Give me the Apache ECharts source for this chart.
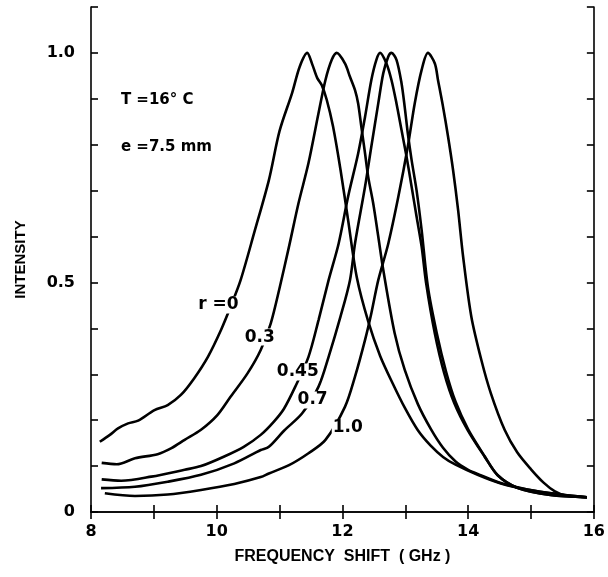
<!DOCTYPE html>
<html>
<head>
<meta charset="utf-8">
<script src="https://cdn.jsdelivr.net/npm/echarts@6/dist/echarts.min.js"></script>
<style>
html,body{margin:0;padding:0;background:#fff;}
#chart{width:608px;height:577px;}
</style>
</head>
<body>
<div id="chart"></div>
<script>
// ---- data ----
const xTicks = [8, 10, 12, 14, 16];
const yTicks = [0, 0.5, 1.0];
const seriesNames = ['r = 0', '0.3', '0.45', '0.7', '1.0'];

const r0X = [8.14, 8.3, 8.43, 8.59, 8.75, 9.01, 9.22, 9.43, 9.64, 9.86, 10.07, 10.22, 10.38, 10.6, 10.83, 11.0, 11.2, 11.32, 11.44, 11.52, 11.6, 11.67, 11.75, 11.85, 11.97, 12.09, 12.23, 12.41, 12.6, 12.8, 13.0, 13.2, 13.4, 13.6, 13.8, 14.15, 14.52, 14.94, 15.42, 15.89];
const r0Y = [0.153, 0.168, 0.182, 0.193, 0.199, 0.222, 0.233, 0.255, 0.291, 0.338, 0.397, 0.447, 0.505, 0.61, 0.723, 0.83, 0.913, 0.97, 1.0, 0.975, 0.945, 0.93, 0.898, 0.84, 0.745, 0.636, 0.51, 0.415, 0.34, 0.28, 0.225, 0.178, 0.145, 0.12, 0.103, 0.081, 0.062, 0.049, 0.039, 0.032];

const r03X = [8.17, 8.41, 8.70, 9.06, 9.28, 9.49, 9.75, 10.01, 10.22, 10.49, 10.70, 10.86, 11.0, 11.15, 11.30, 11.46, 11.62, 11.73, 11.83, 11.91, 12.04, 12.12, 12.20, 12.25, 12.30, 12.36, 12.41, 12.49, 12.57, 12.65, 12.83, 12.99, 13.2, 13.41, 13.6, 13.8, 14.0, 14.15, 14.52, 14.94, 15.42, 15.89];
const r03Y = [0.107, 0.104, 0.117, 0.126, 0.139, 0.157, 0.179, 0.211, 0.251, 0.302, 0.353, 0.411, 0.488, 0.578, 0.672, 0.76, 0.869, 0.941, 0.985, 1.0, 0.977, 0.948, 0.919, 0.89, 0.84, 0.781, 0.73, 0.672, 0.60, 0.527, 0.39, 0.31, 0.235, 0.18, 0.14, 0.11, 0.092, 0.083, 0.063, 0.049, 0.039, 0.032];

const r045X = [8.17, 8.48, 8.96, 9.49, 9.75, 10.12, 10.43, 10.70, 10.91, 11.07, 11.25, 11.46, 11.62, 11.78, 11.94, 12.09, 12.25, 12.36, 12.46, 12.54, 12.60, 12.70, 12.78, 12.86, 12.94, 13.02, 13.10, 13.18, 13.26, 13.33, 13.47, 13.62, 13.78, 13.99, 14.26, 14.47, 14.78, 15.31, 15.89];
const r045Y = [0.071, 0.068, 0.077, 0.092, 0.100, 0.121, 0.142, 0.168, 0.197, 0.225, 0.273, 0.338, 0.418, 0.505, 0.585, 0.687, 0.781, 0.861, 0.941, 0.985, 1.0, 0.977, 0.941, 0.89, 0.832, 0.774, 0.709, 0.643, 0.578, 0.5, 0.389, 0.302, 0.237, 0.179, 0.121, 0.08, 0.053, 0.037, 0.032];

const r07X = [8.16, 8.70, 9.22, 9.75, 10.28, 10.70, 10.83, 11.07, 11.36, 11.62, 11.78, 11.97, 12.12, 12.20, 12.36, 12.46, 12.57, 12.65, 12.73, 12.78, 12.86, 12.94, 12.99, 13.04, 13.10, 13.18, 13.26, 13.36, 13.5, 13.65, 13.8, 14.0, 14.26, 14.47, 14.78, 15.31, 15.89];
const r07Y = [0.052, 0.055, 0.066, 0.081, 0.106, 0.135, 0.142, 0.177, 0.215, 0.273, 0.338, 0.426, 0.505, 0.585, 0.709, 0.796, 0.89, 0.956, 0.992, 1.0, 0.985, 0.934, 0.883, 0.825, 0.767, 0.70, 0.614, 0.49, 0.39, 0.305, 0.24, 0.18, 0.122, 0.08, 0.053, 0.037, 0.032];

const r10X = [8.22, 8.70, 9.22, 9.75, 10.28, 10.70, 10.83, 11.15, 11.46, 11.73, 12.04, 12.20, 12.36, 12.46, 12.57, 12.73, 12.89, 13.04, 13.15, 13.26, 13.36, 13.47, 13.52, 13.60, 13.68, 13.76, 13.84, 13.92, 14.05, 14.21, 14.36, 14.58, 14.78, 15.0, 15.2, 15.38, 15.55, 15.89];
const r10Y = [0.041, 0.035, 0.038, 0.048, 0.061, 0.076, 0.084, 0.102, 0.128, 0.157, 0.229, 0.295, 0.375, 0.433, 0.505, 0.585, 0.687, 0.796, 0.89, 0.963, 1.0, 0.977, 0.941, 0.883, 0.818, 0.745, 0.658, 0.556, 0.426, 0.331, 0.259, 0.179, 0.13, 0.093, 0.064, 0.045, 0.036, 0.032];

// curve annotations: [text, x, y] in data units (left edge, vertical centre)
const curveLabels = [
  ['r =0', 9.69, 0.451],
  ['0.3', 10.43, 0.381],
  ['0.45', 10.94, 0.305],
  ['0.7', 11.27, 0.244],
  ['1.0', 11.83, 0.183]
];
const infoLabels = [
  ['T =16° C', 8.46, 0.898],
  ['e =7.5 mm', 8.46, 0.795]
];

// ---- chart ----
const zip = (xs, ys) => xs.map((x, i) => [x, ys[i]]);
const allX = [r0X, r03X, r045X, r07X, r10X];
const allY = [r0Y, r03Y, r045Y, r07Y, r10Y];

const FONT = 'Liberation Sans';
const FONT2 = 'DejaVu Sans';
const chart = echarts.init(document.getElementById('chart'), null, {renderer: 'canvas'});

const axisLineStyle = {color: '#000', width: 1.6};
const near = (a, b) => Math.abs(a - b) < 1e-6;

const option = {
  animation: false,
  backgroundColor: '#fff',
  grid: {left: 91, right: 11, top: 7, bottom: 65, containLabel: false},
  xAxis: [
    {
      type: 'value', min: 8, max: 16, interval: 1, position: 'bottom',
      name: 'FREQUENCY  SHIFT  ( GHz )', nameLocation: 'middle', nameGap: 37,
      nameTextStyle: {fontFamily: FONT, fontWeight: 'bold', fontSize: 16, color: '#000'},
      axisLine: {lineStyle: axisLineStyle},
      axisTick: {inside: true, length: 7, lineStyle: {color: '#000', width: 1.6}},
      axisLabel: {
        margin: 12, fontFamily: FONT2, fontWeight: 'bold', fontSize: 16, color: '#000',
        formatter: v => xTicks.some(t => near(t, v)) ? String(v) : ''
      },
      splitLine: {show: false}
    },
    {
      type: 'value', min: 8, max: 16, interval: 1, position: 'top',
      axisLine: {lineStyle: axisLineStyle},
      axisTick: {inside: true, length: 7, lineStyle: {color: '#000', width: 1.6}},
      axisLabel: {show: false}, splitLine: {show: false}
    }
  ],
  yAxis: [
    {
      type: 'value', min: 0, max: 1.1, interval: 0.1, position: 'left',
      name: 'INTENSITY', nameLocation: 'middle', nameGap: 63, nameRotate: 90,
      nameTextStyle: {fontFamily: FONT, fontWeight: 'bold', fontSize: 15, color: '#000'},
      axisLine: {show: true, lineStyle: axisLineStyle},
      axisTick: {show: true, inside: true, length: 7, lineStyle: {color: '#000', width: 1.6}},
      axisLabel: {
        margin: 16, fontFamily: FONT2, fontWeight: 'bold', fontSize: 16, color: '#000',
        formatter: v => {
          if (near(v, 0)) return '0';
          if (near(v, 0.5)) return '0.5';
          if (near(v, 1)) return '1.0';
          return '';
        }
      },
      splitLine: {show: false}
    },
    {
      type: 'value', min: 0, max: 1.1, interval: 0.1, position: 'right',
      axisLine: {show: true, lineStyle: axisLineStyle},
      axisTick: {show: true, inside: true, length: 7, lineStyle: {color: '#000', width: 1.6}},
      axisLabel: {show: false}, splitLine: {show: false}
    }
  ],
  series: seriesNames.map((n, i) => ({
    name: n, type: 'line', xAxisIndex: 0, yAxisIndex: 0,
    data: zip(allX[i], allY[i]),
    smooth: 0.3, showSymbol: false, symbol: 'none',
    lineStyle: {color: '#000', width: 2.6},
    z: 3
  }))
};
chart.setOption(option);

// text annotations placed in data coordinates
const textEls = [];
curveLabels.concat(infoLabels).forEach(([t, x, y], i) => {
  const p = chart.convertToPixel({xAxisIndex: 0, yAxisIndex: 0}, [x, y]);
  const isCurve = i < curveLabels.length;
  textEls.push({
    type: 'text', x: p[0], y: p[1], z: 10,
    style: {
      text: t, fontFamily: FONT2, fontWeight: 'bold',
      fontSize: isCurve ? 17 : 15, fill: '#000',
      backgroundColor: isCurve ? '#fff' : 'transparent',
      padding: [0, 1],
      textAlign: 'left', textVerticalAlign: 'middle'
    }
  });
});
chart.setOption({graphic: textEls});
</script>
</body>
</html>
